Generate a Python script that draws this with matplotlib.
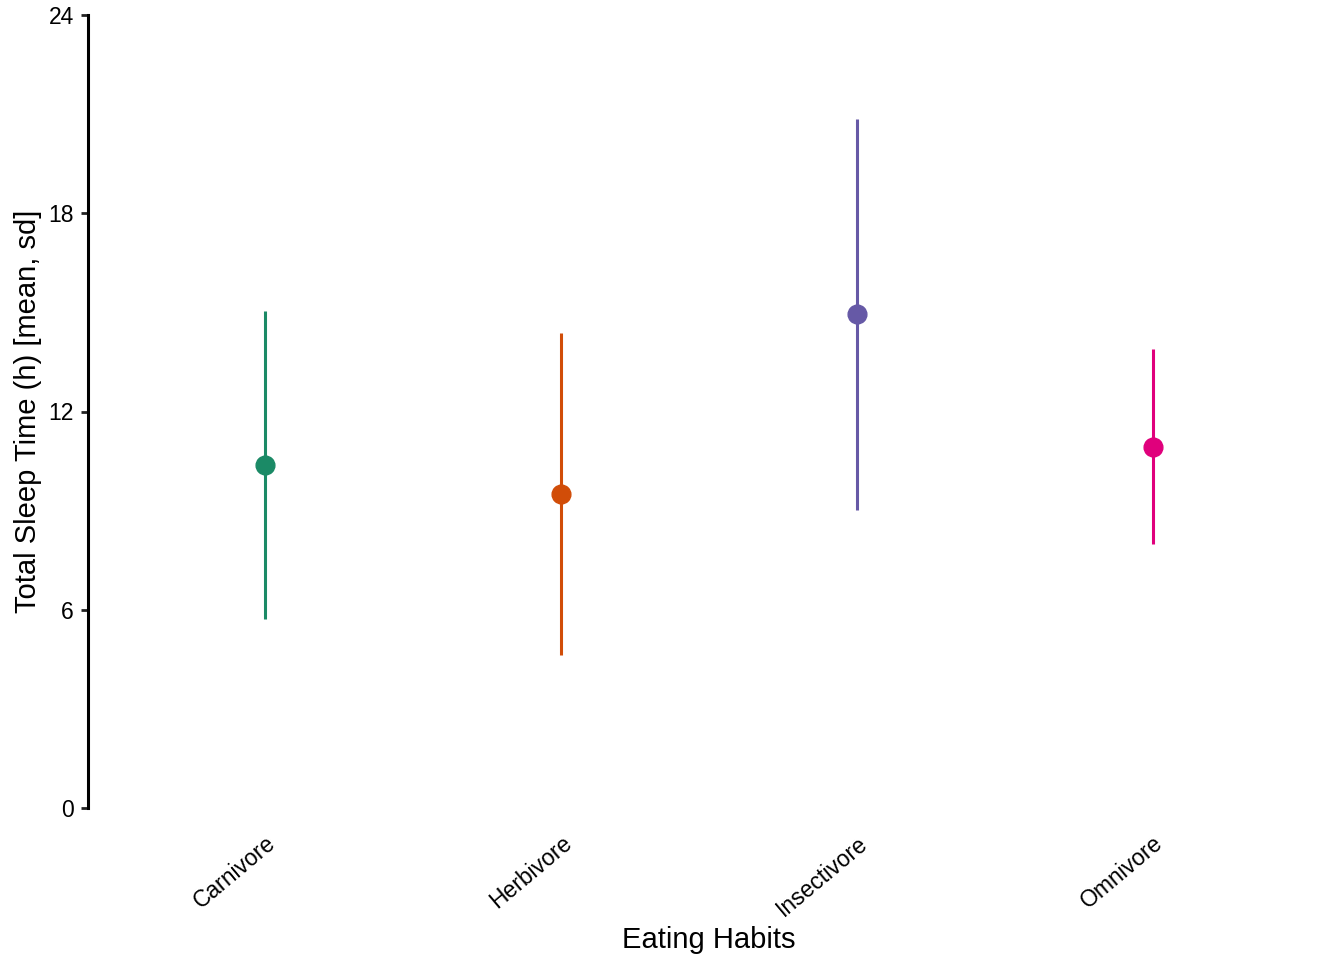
import matplotlib
matplotlib.use("Agg")
import matplotlib.pyplot as plt

categories = ["Carnivore", "Herbivore", "Insectivore", "Omnivore"]
means = [10.38, 9.51, 14.94, 10.93]
sds = [4.67, 4.88, 5.92, 2.95]
colors = ["#1B8A66", "#D14D08", "#6659A6", "#E0007C"]
yticks = [0, 6, 12, 18, 24]

plt.rcParams['font.family'] = ['Liberation Sans', 'DejaVu Sans']

fig = plt.figure(figsize=(13.44, 9.6), dpi=100)
ax = fig.add_axes([88/1344, 1 - 808/960, (1330 - 88)/1344, (808 - 15)/960])

xs = list(range(len(categories)))
for x, m, s, c in zip(xs, means, sds, colors):
    ax.plot([x, x], [m - s, m + s], color=c, lw=2.2, solid_capstyle='butt', zorder=2)
    ax.plot([x], [m], 'o', color=c, ms=13.5, mec=c, zorder=3)

ax.set_xlim(-0.6, len(categories) - 1 + 0.6)
ax.set_ylim(0, 24)
ax.set_yticks(yticks)
ax.set_yticklabels([str(t) for t in yticks], fontsize=16.5)
ax.set_xticks(xs)
ax.set_xticklabels(categories, fontsize=16.5, rotation=40, ha='right', va='top',
                   rotation_mode='anchor')
ax.tick_params(axis='x', length=0, pad=17)
ax.tick_params(axis='y', length=5, width=2, pad=5, color='#222222')
for sp in ['top', 'right', 'bottom']:
    ax.spines[sp].set_visible(False)
ax.spines['left'].set_linewidth(2.2)
ax.spines['left'].set_color('black')

ax.set_xlabel("Eating Habits", fontsize=21, labelpad=4)
ax.set_ylabel("Total Sleep Time (h) [mean, sd]", fontsize=21, labelpad=5)

fig.savefig("out.png", dpi=100)
